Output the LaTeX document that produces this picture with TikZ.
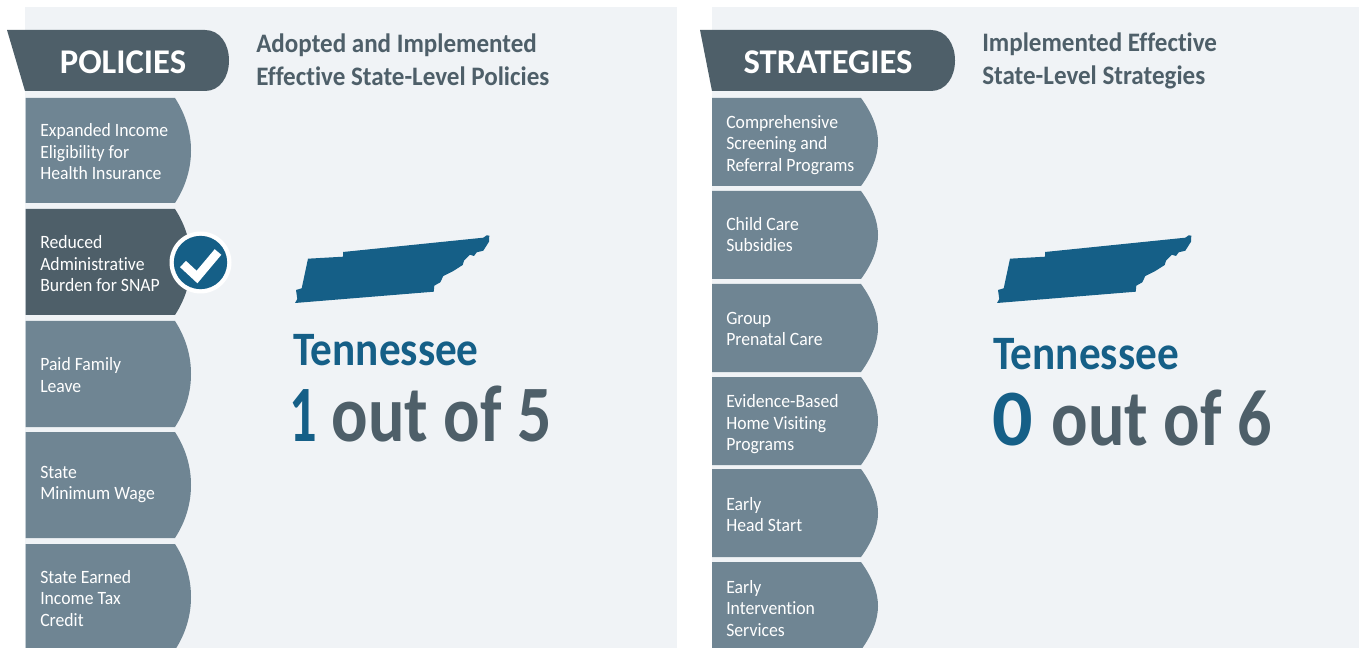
\documentclass[tikz,border=0pt]{standalone}
\usepackage{fontspec}
\setmainfont{Carlito}[Ligatures=NoCommon]
\newfontfamily\tabfam{Carlito}[FakeStretch=0.94,Ligatures=NoCommon]
\newfontfamily\subfam{Carlito}[FakeStretch=0.94,Ligatures=NoCommon]
\newfontfamily\tnfam{Carlito}[FakeStretch=0.90,Ligatures=NoCommon]
\newfontfamily\scorefam{Carlito}[FakeStretch=0.85,Ligatures=NoCommon]
\newfontfamily\onefam{Carlito}[FakeStretch=0.68,Ligatures=NoCommon]
\definecolor{panelbg}{HTML}{F0F3F6}
\definecolor{darkslate}{HTML}{4E5F69}
\definecolor{tabslate}{HTML}{6F8593}
\definecolor{tnblue}{HTML}{155F87}
\newcommand{\poltab}[3][tabslate]{%
  \fill[#1] (25.5,#2) -- (175,#2) .. controls (186,{#2+17}) and (191,{#2+35}) .. (191,{(#2+#3)/2})
    .. controls (191,{#3-35}) and (186,{#3-17}) .. (175,#3) -- (25.5,#3) -- cycle;}
\newcommand{\strtab}[2]{%
  \fill[tabslate] (712,#1) -- (861,#1) .. controls (872,{#1+15}) and (878,{#1+30}) .. (878,{(#1+#2)/2})
    .. controls (878,{#2-30}) and (872,{#2-15}) .. (861,#2) -- (712,#2) -- cycle;}
\newcommand{\tnshape}{%
  \fill[tnblue] (295,303) -- (297.3,299) -- (296,290) -- (301.7,288.3) -- (308,258.7) -- (343,256.7)
   -- (343,252) -- (483.3,237.7) -- (486.7,235.3) -- (489.3,235.7) -- (489,241.7) -- (483.3,250.7)
   -- (476.7,252.3) -- (474,256) -- (470,254.7) -- (464,260.7) -- (462.7,265) -- (453.3,271)
   -- (443.3,276) -- (440.3,282.3) -- (434.3,285.7) -- (433.7,291.7) -- cycle;}
\tikzset{
  x=0.75pt,y=-0.75pt,
  tabtext/.style={text=white,font=\tabfam\fontsize{14.1}{16.1}\selectfont,align=left,anchor=west,inner sep=0pt},
  head/.style={text=white,font=\fontsize{26}{26}\bfseries\selectfont,anchor=center,inner sep=0pt},
  subhead/.style={text=darkslate,font=\subfam\fontsize{20}{24.7}\bfseries\selectfont,align=left,anchor=west,inner sep=0pt},
  statename/.style={text=tnblue,font=\tnfam\fontsize{36}{36}\bfseries\selectfont,anchor=base west,inner sep=0pt},
  score/.style={text=darkslate,font=\scorefam\fontsize{60}{60}\bfseries\selectfont,anchor=base west,inner sep=0pt},
}
\begin{document}
\begin{tikzpicture}
\useasboundingbox (0,0) rectangle (1359,648);
\begin{scope}
\clip (0,0) rectangle (1359,648);
\fill[panelbg] (25,7) rectangle (677,648);
\fill[panelbg] (712,7) rectangle (1359,648);
% ribbons
\fill[darkslate] (7,30) -- (205,30) .. controls (220,30) and (229,44) .. (229,60.5)
  .. controls (229,77) and (220,91) .. (205,91) -- (25,91) -- cycle;
\fill[darkslate] (700,30) -- (931,30) .. controls (946,30) and (955,44) .. (955,60.5)
  .. controls (955,77) and (946,91) .. (931,91) -- (712,91) -- cycle;
% policy tabs
\poltab{98}{203}
\poltab[darkslate]{209}{315}
\poltab{321}{427}
\poltab{432}{538}
\poltab{544}{650}
% strategy tabs
\strtab{98}{186}
\strtab{191}{279}
\strtab{284}{372}
\strtab{377}{465}
\strtab{469}{557}
\strtab{562}{650}
% state shapes
\tnshape
\begin{scope}[xshift=526.5pt]\tnshape\end{scope}
% check badge
\node[circle,fill=white,minimum size=46.5pt,inner sep=0pt] (badgeout) at (200.5,262.5) {};
\node[circle,fill=tnblue,minimum size=40pt,inner sep=0pt] (badgein) at (badgeout) {};
\coordinate (ck1) at (183,264);
\coordinate (ck2) at (197,277);
\coordinate (ck3) at (218,252);
\draw[white,line width=6.5pt] (ck1) -- (ck2) -- (ck3);
\end{scope}
% headers
\node[head] (polhead) at (123,62) {POLICIES};
\node[head] (strhead) at (828,62) {STRATEGIES};
\node[subhead] (polsub) at (256,59.5) {Adopted and Implemented\\Effective State-Level Policies};
\node[subhead] (strsub) at (982,61) {Implemented Effective\\State-Level Strategies};
% policy labels
\node[tabtext] (p1) at (40,152) {Expanded Income\\Eligibility for\\Health Insurance};
\node[tabtext] (p2) at (40,264) {Reduced\\Administrative\\Burden for SNAP};
\node[tabtext] (p3) at (40,375) {Paid Family\\Leave};
\node[tabtext] (p4) at (40,484.5) {State\\Minimum Wage};
\node[tabtext] (p5) at (40,598.5) {State Earned\\Income Tax\\Credit};
% strategy labels
\node[tabtext] (s1) at (726,145) {Comprehensive\\Screening and\\Referral Programs};
\node[tabtext] (s2) at (726,234.5) {Child Care\\Subsidies};
\node[tabtext] (s3) at (726,329) {Group\\Prenatal Care};
\node[tabtext] (s4) at (726,424.5) {Evidence-Based\\Home Visiting\\Programs};
\node[tabtext] (s5) at (726,514.5) {Early\\Head Start};
\node[tabtext] (s6) at (726,608.5) {Early\\Intervention\\Services};
% scores
\node[statename] (tn1) at (293,365) {Tennessee};
\node[statename] (tn2) at (993,369) {Tennessee};
\node[score,text=tnblue,font=\onefam\fontsize{60}{60}\bfseries\selectfont] (num1) at (289,441) {1};
\node[score] (sc1) at (331.5,441) {out of 5};
\node[score,text=tnblue,font=\fontsize{60}{60}\bfseries\selectfont] (num2) at (992,445) {0};
\node[score] (sc2) at (1051.5,445) {out of 6};
\end{tikzpicture}
\end{document}
